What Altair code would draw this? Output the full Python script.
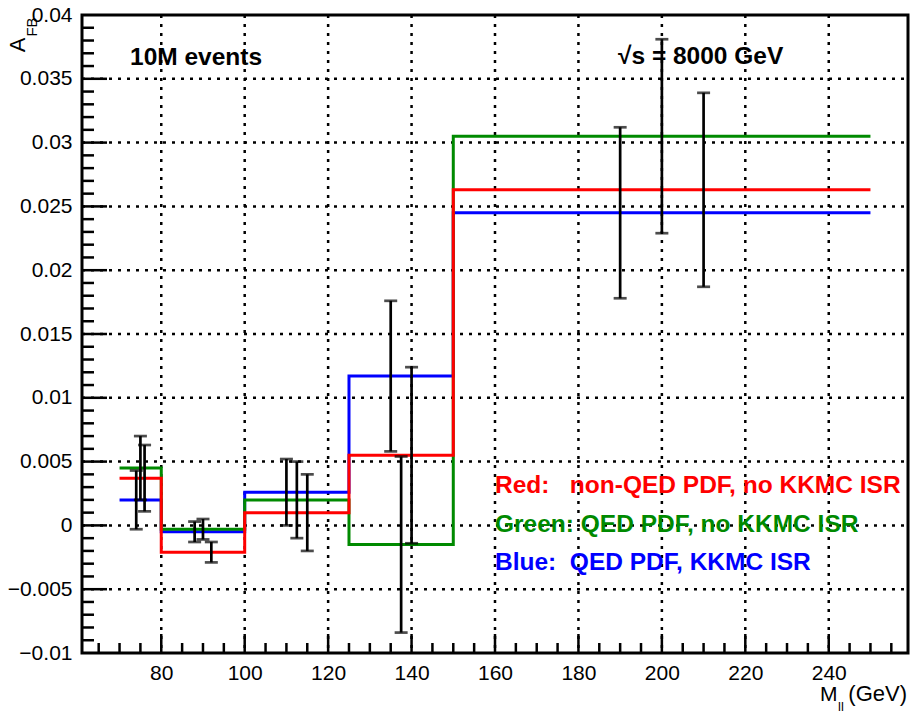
import altair as alt
import pandas as pd

# ---------------- data ----------------
edges = [70, 80, 100, 125, 150, 250]
red_vals = [0.0037, -0.0021, 0.0010, 0.0055, 0.0263]
green_vals = [0.0045, -0.0003, 0.0020, -0.0015, 0.0305]
blue_vals = [0.0020, -0.0005, 0.0026, 0.0117, 0.0245]

blue_x = [74, 88, 110, 135, 190]
green_x = [75, 90, 112.5, 137.5, 200]
red_x = [76, 92, 115, 140, 210]

blue_err = [0.0023, 0.0008, 0.0026, 0.0059, 0.0067]
green_err = [0.0025, 0.0008, 0.0030, 0.0069, 0.0076]
red_err = [0.0026, 0.0008, 0.0030, 0.0069, 0.0076]

x_labels = [80, 100, 120, 140, 160, 180, 200, 220, 240]
y_labels = [-0.01, -0.005, 0, 0.005, 0.01, 0.015, 0.02, 0.025, 0.03, 0.035, 0.04]

series_names = ["blue", "green", "red"]
series_colors = ["#0000FF", "#008A00", "#FF0000"]

# ---------------- layout ----------------
W, H = 826, 638
FONT = "Liberation Sans"
xs = alt.Scale(domain=[61, 259], nice=False, zero=False)
ys = alt.Scale(domain=[-0.01, 0.04], nice=False, zero=False)

xaxis = alt.Axis(values=x_labels, format="d", title=None, ticks=False, domain=False,
                 grid=False, labelFont=FONT, labelFontSize=21, labelColor="black",
                 labelPadding=9, labelOverlap=False, labelFlush=False)
yaxis = alt.Axis(values=y_labels, format="~g", title=None, ticks=False, domain=False,
                 grid=False, labelFont=FONT, labelFontSize=21, labelColor="black",
                 labelPadding=10, labelOverlap=False, labelFlush=False)


def X(field):
    return alt.X(field, scale=xs, axis=xaxis, title=None)


def Y(field):
    return alt.Y(field, scale=ys, axis=yaxis, title=None)


# histogram outlines
hist_rows = []
for name, vals in zip(series_names, [blue_vals, green_vals, red_vals]):
    for i, v in enumerate(vals):
        hist_rows.append({"s": name, "x": edges[i], "y": v})
    hist_rows.append({"s": name, "x": edges[-1], "y": vals[-1]})
hist_df = pd.DataFrame(hist_rows)

# error bars
err_rows = []
for name, xp, vals, errs in zip(series_names, [blue_x, green_x, red_x],
                                [blue_vals, green_vals, red_vals],
                                [blue_err, green_err, red_err]):
    for x, v, e in zip(xp, vals, errs):
        err_rows.append({"s": name, "x": x, "lo": v - e, "hi": v + e})
err_df = pd.DataFrame(err_rows)

# tick positions
x_major = x_labels
x_minor = [v for v in range(65, 259, 5) if v % 20 != 0]
y_major_grid = [v for v in y_labels if -0.01 < v < 0.04]
y_minor = [round(i * 0.001, 3) for i in range(-9, 40) if i % 5 != 0]

grid_style = dict(color="black", strokeWidth=2.5, strokeDash=[3, 6])

xgrid = alt.Chart(pd.DataFrame({"v": x_major})).mark_rule(**grid_style).encode(
    x=X("v:Q"), y=alt.value(0), y2=alt.value(H))
ygrid = alt.Chart(pd.DataFrame({"v": y_major_grid})).mark_rule(**grid_style).encode(
    y=Y("v:Q"), x=alt.value(0), x2=alt.value(W))

tick_style = dict(color="black", strokeWidth=2.5)
xt_major = alt.Chart(pd.DataFrame({"v": x_major})).mark_rule(**tick_style).encode(
    x=X("v:Q"), y=alt.value(H), y2=alt.value(H - 19))
xt_minor = alt.Chart(pd.DataFrame({"v": x_minor})).mark_rule(**tick_style).encode(
    x=X("v:Q"), y=alt.value(H), y2=alt.value(H - 10))
yt_major = alt.Chart(pd.DataFrame({"v": y_major_grid})).mark_rule(**tick_style).encode(
    y=Y("v:Q"), x=alt.value(0), x2=alt.value(25))
yt_minor = alt.Chart(pd.DataFrame({"v": y_minor})).mark_rule(**tick_style).encode(
    y=Y("v:Q"), x=alt.value(0), x2=alt.value(12))

hist_layers = [
    alt.Chart(hist_df[hist_df.s == n]).mark_line(interpolate="step-after", strokeWidth=3, color=c).encode(
        x=X("x:Q"), y=Y("y:Q"), order=alt.Order("x:Q"))
    for n, c in zip(series_names, series_colors)
]

err_rule = alt.Chart(err_df).mark_rule(color="black", strokeWidth=2.7).encode(
    x=X("x:Q"), y=Y("lo:Q"), y2="hi:Q")
cap_lo = alt.Chart(err_df).mark_tick(color="black", orient="horizontal", size=13, thickness=2.7).encode(
    x=X("x:Q"), y=Y("lo:Q"))
cap_hi = alt.Chart(err_df).mark_tick(color="black", orient="horizontal", size=13, thickness=2.7).encode(
    x=X("x:Q"), y=Y("hi:Q"))


def label(text, x, y, size, color="black", bold=False, align="left", angle=0, baseline="alphabetic"):
    kw = dict(font=FONT, fontSize=size, color=color, align=align, baseline=baseline,
              fontWeight="bold" if bold else "normal")
    if angle:
        kw["angle"] = angle
    return alt.Chart(pd.DataFrame({"t": [text]})).mark_text(**kw).encode(
        text="t:N", x=alt.value(x), y=alt.value(y))


NB = "\u00a0"
texts = [
    label("10M events", 48, 50, 24.5, bold=True),
    label("\u221As = 8000 GeV", 536, 49, 24.5, bold=True),
    label("Red:" + NB * 3 + "non-QED PDF, no KKMC ISR", 413, 478, 24.5, color="#FF0000", bold=True),
    label("Green: QED PDF, no KKMC ISR", 413, 517, 24.5, color="#008A00", bold=True),
    label("Blue:" + NB * 2 + "QED PDF, KKMC ISR", 413, 555, 24.5, color="#0000FF", bold=True),
    label("M", 738, 686, 21),
    label("ll", 756, 696, 13),
    label("(GeV)", 825, 686, 22, align="right"),
    label("A", -57, 30, 22, angle=270, align="center"),
    label("FB", -45, 12, 15, angle=270, align="center"),
]

chart = alt.layer(
    xgrid, ygrid, xt_major, xt_minor, yt_major, yt_minor,
    *hist_layers, err_rule, cap_lo, cap_hi, *texts
).properties(
    width=W, height=H,
    autosize="none",
    padding={"left": 82, "top": 15, "right": 3, "bottom": 61},
    background="white",
).configure_view(stroke="black", strokeWidth=3)

chart.save("out.html", embed_options={"renderer": "svg", "actions": False})
